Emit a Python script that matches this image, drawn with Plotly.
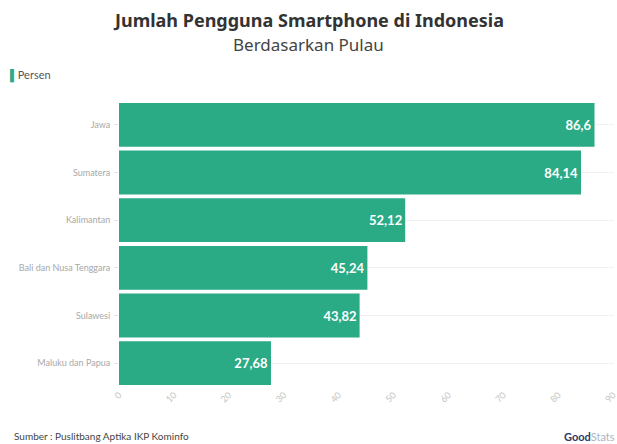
import plotly.graph_objects as go

categories = ["Jawa", "Sumatera", "Kalimantan", "Bali dan Nusa Tenggara", "Sulawesi", "Maluku dan Papua"]
values = [86.6, 84.14, 52.12, 45.24, 43.82, 27.68]
labels = ["86,6", "84,14", "52,12", "45,24", "43,82", "27,68"]
x_ticks = [0, 10, 20, 30, 40, 50, 60, 70, 80, 90]

GREEN = "#2bab85"
FONT = "Lato"
TFONT = "Noto Sans"

fig = go.Figure()
fig.add_trace(go.Bar(
    y=categories, x=values, orientation="h",
    marker=dict(color=GREEN, line=dict(width=0)),
    text=labels, textposition="inside", insidetextanchor="end",
    textfont=dict(color="white", size=13, family=FONT, weight="bold"),
    name="Persen", showlegend=False, hoverinfo="skip",
))

fig.update_layout(
    width=617, height=444,
    margin=dict(l=119, r=3, t=101, b=57, autoexpand=False),
    paper_bgcolor="white", plot_bgcolor="white",
    bargap=0.08,
    font=dict(family=FONT),
    xaxis=dict(range=[0, 90.15], tickvals=x_ticks, tickangle=-45, automargin=False,
               tickfont=dict(size=9, color="#c4c4c4"), showgrid=False,
               zeroline=False, showline=False, ticks="", ticklabeloverflow="allow"),
    yaxis=dict(categoryorder="array", categoryarray=categories[::-1], automargin=False,
               tickfont=dict(size=9, color="#a8a8a8"), showgrid=True,
               gridcolor="#f0f0f0", ticks="outside", ticklen=4, tickcolor="#e6e6e6",
               ticklabelstandoff=2, showline=False, zeroline=False),
)

fig.add_annotation(text="<b>Jumlah Pengguna Smartphone di Indonesia</b>", xref="paper", yref="paper",
                   x=(308.5 - 119) / (617 - 119 - 3), y=1, xanchor="center", yanchor="middle",
                   yshift=81, showarrow=False,
                   font=dict(size=18, color="#333333", family=TFONT))
fig.add_annotation(text="Berdasarkan Pulau", xref="paper", yref="paper",
                   x=(308.5 - 119) / (617 - 119 - 3), y=1, xanchor="center", yanchor="middle",
                   yshift=57, showarrow=False,
                   font=dict(size=17, color="#444444", family=TFONT))
fig.add_annotation(text="<span style='color:%s'>▌</span>Persen" % GREEN, xref="paper", yref="paper",
                   x=0, y=1, xanchor="left", yanchor="middle", xshift=-111, yshift=26, showarrow=False,
                   font=dict(size=11, color="#555555", family=FONT))
fig.add_annotation(text="Sumber : Puslitbang Aptika IKP Kominfo", xref="paper", yref="paper",
                   x=0, y=0, xanchor="left", yanchor="middle", xshift=-107, yshift=-49, showarrow=False,
                   font=dict(size=10, color="#444444", family=FONT))
fig.add_annotation(text="<b>Good</b><span style='color:#aab4c8'>Stats</span>", xref="paper", yref="paper",
                   x=1, y=0, xanchor="right", yanchor="middle", xshift=3, yshift=-49, showarrow=False,
                   font=dict(size=11, color="#2b3a67", family=FONT))

fig.write_html("out.html")
